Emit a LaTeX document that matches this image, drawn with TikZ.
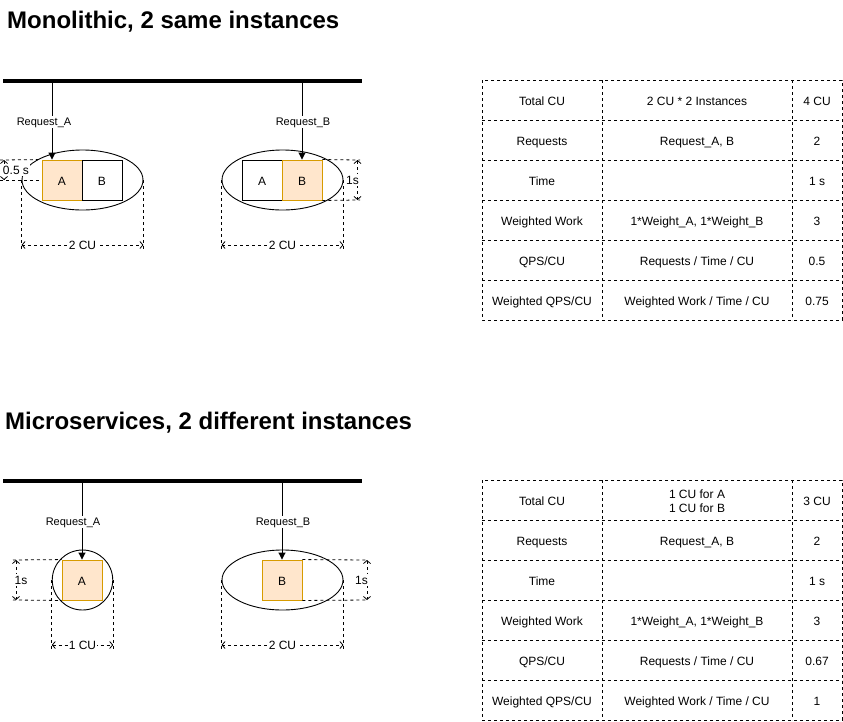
\documentclass[tikz,border=0pt]{standalone}
\usepackage{fontspec}
\setmainfont{Liberation Sans}
\usetikzlibrary{arrows.meta,shapes.geometric,calc}
\definecolor{boxfill}{HTML}{FFE6CC}
\definecolor{boxline}{HTML}{D79B00}
\begin{document}
\begin{tikzpicture}[x=1pt,y=-1pt,
 title/.style={font=\fontsize{24}{28}\selectfont\bfseries, anchor=base west, inner sep=0},
 busbar/.style={line width=4pt},
 req/.style={line width=0.9pt, -{Triangle[length=7pt,width=7pt]}},
 lab/.style={font=\fontsize{11}{13}\selectfont, fill=white, inner sep=1pt, text height=8pt, text depth=2pt},
 dimtxt/.style={font=\fontsize{12}{14}\selectfont, fill=white, inner sep=1pt, text height=9pt, text depth=0.5pt},
 guide/.style={line width=0.8pt, dash pattern=on 3pt off 3pt},
 dim/.style={guide, {Straight Barb[length=3pt,width=7pt]}-{Straight Barb[length=3pt,width=7pt]}},
 inst/.style={ellipse, draw, line width=0.9pt, inner sep=0, minimum width=121pt, minimum height=60pt},
 svc/.style={draw, line width=0.9pt, minimum size=40pt, inner sep=0, font=\fontsize{12}{14}\selectfont, text height=10pt, text depth=0pt},
 busy/.style={svc, fill=boxfill, draw=boxline},
 cell/.style={font=\fontsize{12}{14}\selectfont, align=center, inner sep=0, anchor=center, text height=10pt, text depth=0pt},
 cell2/.style={font=\fontsize{12}{14}\selectfont, align=center, inner sep=0, anchor=center},
 grid/.style={line width=0.8pt, dash pattern=on 3pt off 3pt}
]
\useasboundingbox (0,0) rectangle (843,721);

% ---------------- Monolithic ----------------
\node[title] (t1) at (7,28) {Monolithic, 2 same instances};
\coordinate (b1l) at (3,80.5);
\coordinate (b1r) at (362,80.5);

\node[inst] (e1) at (82.5,180) {};
\node[busy] (a1) at (62,180) {A};
\node[svc] (b1) at (102,180) {B};
\node[inst] (e2) at (282.5,180) {};
\node[svc] (a2) at (262,180) {A};
\node[busy] (b2) at (302,180) {B};

\coordinate (ra1) at (52,80.5);
\coordinate (rb1) at (302,80.5);
\draw[req] (ra1) -- (ra1 |- a1.north);
\draw[req] (rb1) -- (b2.north);
\draw[busbar] (b1l) -- (b1r);
\node[lab] (la1) at (44,122) {Request\_A};
\node[lab] (lb1) at (303,122) {Request\_B};

% 0.5 s
\coordinate (h1a) at (0,160);
\coordinate (h1b) at (0,180);
\draw[guide] (h1a) -- (a1.north west);
\draw[guide] (h1b) -- (a1.west);
\coordinate (d1a) at (4,160);
\coordinate (d1b) at (4,180);
\draw[dim] (d1a) -- (d1b);
\node[dimtxt] (l05) at (16,170) {0.5 s};

% 2 CU left
\draw[guide] (e1.west) -- ++(0,70);
\draw[guide] (e1.east) -- ++(0,70);
\draw[dim] ($(e1.west)+(0,65)$) -- ($(e1.east)+(0,65)$) node[midway, dimtxt] {2 CU};

% 1s right
\coordinate (h2a) at (360,160);
\coordinate (h2b) at (360,200);
\draw[guide] (b2.north east) -- (h2a);
\draw[guide] (b2.south east) -- (h2b);
\coordinate (d2a) at (357.5,160);
\coordinate (d2b) at (357.5,200);
\draw[dim] (d2a) -- (d2b);
\node[dimtxt] (l1s) at (352.5,180) {1s};

% 2 CU right
\draw[guide] (e2.west) -- ++(0,70);
\draw[guide] (e2.east) -- ++(0,70);
\draw[dim] ($(e2.west)+(0,65)$) -- ($(e2.east)+(0,65)$) node[midway, dimtxt] {2 CU};

% table 1
\foreach \i/\p/\q/\r in {1/Total CU/{2 CU * 2 Instances}/4 CU,
  2/Requests/{Request\_A, B}/2,
  3/Time/{}/1 s,
  4/Weighted Work/{1*Weight\_A, 1*Weight\_B}/3,
  5/QPS\slash CU/{Requests / Time / CU}/0.5,
  6/Weighted QPS\slash CU/{Weighted Work / Time / CU}/0.75}{
  \node[cell] (ma-\i-1) at (542,{100+40*(\i-1)}) {\p};
  \node[cell] (ma-\i-2) at (697,{100+40*(\i-1)}) {\q};
  \node[cell] (ma-\i-3) at (817,{100+40*(\i-1)}) {\r};
}
\draw[grid] (482,80) rectangle (842,320);
\foreach \y in {120,160,200,240,280} \draw[grid] (482,\y) -- (842,\y);
\foreach \x in {602,792} \draw[grid] (\x,80) -- (\x,320);

% ---------------- Microservices ----------------
\node[title] (t2) at (5,429) {Microservices, 2 different instances};
\coordinate (b2l) at (3,480.5);
\coordinate (b2r) at (362,480.5);

\node[inst, minimum width=60.5pt, minimum height=60pt] (c3) at (82.5,580) {};
\node[busy] (a3) at (82,580) {A};
\node[inst] (e4) at (282.5,580) {};
\node[busy] (b4) at (282,580) {B};

\coordinate (ra2) at (82,480.5);
\coordinate (rb2) at (282,480.5);
\draw[req] (ra2) -- (a3.north);
\draw[req] (rb2) -- (b4.north);
\draw[busbar] (b2l) -- (b2r);
\node[lab] (la2) at (73,522) {Request\_A};
\node[lab] (lb2) at (283,522) {Request\_B};

% 1s left
\coordinate (h3a) at (13,560);
\coordinate (h3b) at (13,600);
\draw[guide] (h3a) -- (a3.north west);
\draw[guide] (h3b) -- (a3.south west);
\coordinate (d3a) at (16,560);
\coordinate (d3b) at (16,600);
\draw[dim] (d3a) -- (d3b);
\node[dimtxt] (l1sb) at (21,580) {1s};

% 1 CU
\draw[guide] (c3.west) -- ++(0,70);
\draw[guide] (c3.east) -- ++(0,70);
\draw[dim] ($(c3.west)+(0,65)$) -- ($(c3.east)+(0,65)$) node[midway, dimtxt] {1 CU};

% 1s right
\coordinate (h4a) at (368,560);
\coordinate (h4b) at (368,600);
\draw[guide] (b4.north east) -- (h4a);
\draw[guide] (b4.south east) -- (h4b);
\coordinate (d4a) at (367,560);
\coordinate (d4b) at (367,600);
\draw[dim] (d4a) -- (d4b);
\node[dimtxt] (l1sc) at (361.5,580) {1s};

% 2 CU
\draw[guide] (e4.west) -- ++(0,70);
\draw[guide] (e4.east) -- ++(0,70);
\draw[dim] ($(e4.west)+(0,65)$) -- ($(e4.east)+(0,65)$) node[midway, dimtxt] {2 CU};

% table 2
\node[cell2] (mb-1-2) at (697,501) {1 CU for A\\1 CU for B};
\foreach \i/\p/\r in {1/Total CU/3 CU, 2/Requests/2, 3/Time/1 s,
  4/Weighted Work/3, 5/QPS\slash CU/0.67, 6/Weighted QPS\slash CU/1}{
  \node[cell] (mb-\i-1) at (542,{500+40*(\i-1)}) {\p};
  \node[cell] (mb-\i-3) at (817,{500+40*(\i-1)}) {\r};
}
\foreach \i/\q in {2/{Request\_A, B}, 3/{}, 4/{1*Weight\_A, 1*Weight\_B},
  5/{Requests / Time / CU}, 6/{Weighted Work / Time / CU}}{
  \node[cell] (mb-\i-2) at (697,{500+40*(\i-1)}) {\q};
}
\draw[grid] (482,480) rectangle (842,720);
\foreach \y in {520,560,600,640,680} \draw[grid] (482,\y) -- (842,\y);
\foreach \x in {602,792} \draw[grid] (\x,480) -- (\x,720);
\end{tikzpicture}
\end{document}
